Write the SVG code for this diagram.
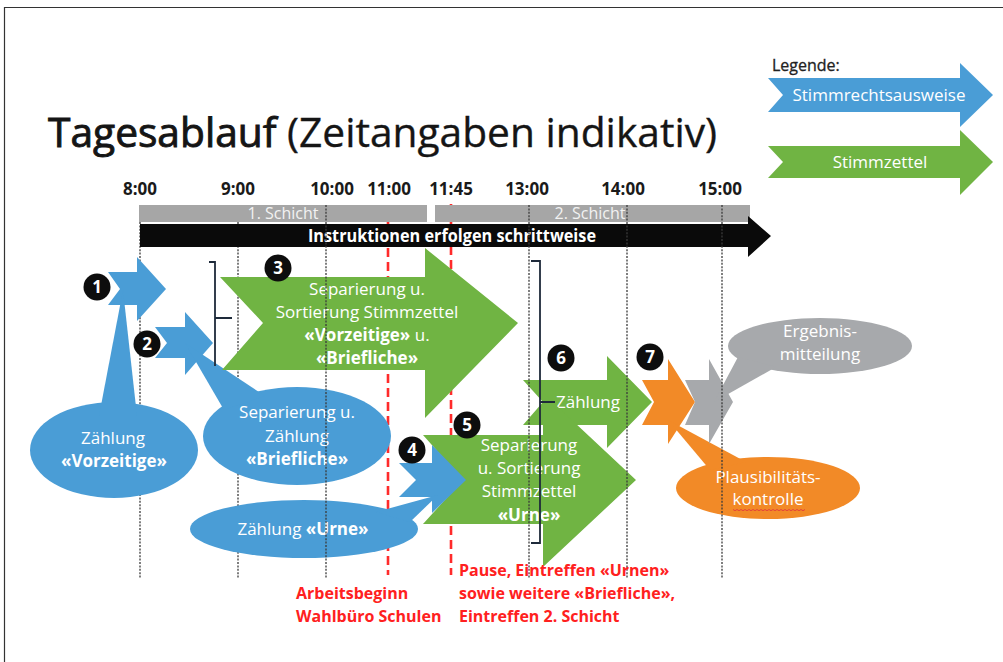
<svg xmlns="http://www.w3.org/2000/svg" width="1003" height="662" viewBox="0 0 1003 662">
  <style>
    .t { font-family: "Open Sans", "Liberation Sans", sans-serif; }
    .w { fill: #ffffff; font-size: 17px; text-anchor: middle; }
    .b { font-weight: 700; }
    .blue { fill: #4a9dd6; }
    .green { fill: #70b443; }
    .orange { fill: #f28a27; }
    .grey { fill: #a7a9ac; }
    .grid { stroke: #3a3a3a; stroke-width: 1.3; stroke-dasharray: 2 1.4; fill: none; }
    .redline { stroke: #ff2b2b; stroke-width: 2.6; stroke-dasharray: 9 5; fill: none; }
    .bracket { stroke: #1e2a3a; stroke-width: 1.8; fill: none; }
    .num circle { fill: #0d0d0d; }
    .num text { fill: #ffffff; font-size: 17px; font-weight: 700; text-anchor: middle; }
    .time { font-size: 17px; font-weight: 700; fill: #1a1a1a; text-anchor: middle; }
    .red { fill: #ff2020; font-size: 16px; font-weight: 700; }
  </style>

  <rect width="1003" height="662" fill="#ffffff"/>
  <path d="M4.5,662 V7.5 H1003" stroke="#333333" stroke-width="1.2" fill="none"/>

  <!-- heading -->
  <text class="t" x="48" y="147" font-size="40" fill="#151515" stroke="#151515" stroke-width="0.35" textLength="669" lengthAdjust="spacingAndGlyphs"><tspan stroke-width="0.9">Tagesablauf</tspan> (Zeitangaben indikativ)</text>

  <!-- legend -->
  <g id="legend">
    <text class="t" x="772" y="71" font-size="16" fill="#222222" stroke="#222222" stroke-width="0.3">Legende:</text>
    <polygon class="blue" points="768,78 960,78 960,63 993,95 960,127 960,112 768,112 783,95"/>
    <text class="t w" x="879" y="101" font-size="16">Stimmrechtsausweise</text>
    <polygon class="green" points="768,146 960,146 960,130 993,162 960,195 960,178 768,178 783,162"/>
    <text class="t w" x="880" y="168" font-size="16">Stimmzettel</text>
  </g>

  <!-- time axis -->
  <g id="timeline">
    <g class="t time">
      <text x="140" y="195">8:00</text>
      <text x="238" y="195">9:00</text>
      <text x="332" y="195">10:00</text>
      <text x="389" y="195">11:00</text>
      <text x="451" y="195">11:45</text>
      <text x="527" y="195">13:00</text>
      <text x="623" y="195">14:00</text>
      <text x="720" y="195">15:00</text>
    </g>
    <path class="redline" d="M388,206 V575 M451,204 V575"/>
    <path class="grid" d="M140,205 V578 M238,205 V578"/>
    <g id="shift1">
      <rect x="139" y="205" width="288" height="17" fill="#a6a6a6"/>
      <text class="t" x="283" y="219" font-size="16" fill="#f2f2f2" text-anchor="middle">1. Schicht</text>
    </g>
    <g id="shift2">
      <rect x="435" y="205" width="315" height="17" fill="#a6a6a6"/>
      <text class="t" x="590" y="219" font-size="16" fill="#f2f2f2" text-anchor="middle">2. Schicht</text>
    </g>
    <g id="instructions">
      <polygon points="140,224 748,224 748,216 771,236 748,257 748,247 140,247" fill="#0a0a0a"/>
      <text class="t w b" x="452" y="242" font-size="16" textLength="288" lengthAdjust="spacingAndGlyphs">Instruktionen erfolgen schrittweise</text>
    </g>
  </g>

  <!-- step 1 -->
  <g id="step1">
    <polygon class="blue" points="108,272 137,272 137,257 166,289 137,321 137,305 108,305 120,289"/>
    <g class="num"><circle cx="97" cy="287" r="13.5"/><text class="t" x="97" y="293">1</text></g>
  </g>
  <g id="count-early">
    <ellipse class="blue" cx="114" cy="450" rx="84" ry="48"/>
    <polygon class="blue" points="123,290 99,416 137,416"/>
    <text class="t w" x="113" y="444">Zählung</text>
    <text class="t w b" x="114" y="467">«Vorzeitige»</text>
  </g>

  <!-- step 2 -->
  <g id="step2">
    <polygon class="blue" points="155,327 185,327 185,312 213,343 185,375 185,358 155,358 167,343"/>
    <g class="num"><circle cx="147" cy="344" r="13.5"/><text class="t" x="147" y="350">2</text></g>
  </g>
  <g id="count-postal">
    <ellipse class="blue" cx="297" cy="436" rx="94" ry="49"/>
    <polygon class="blue" points="185,343 224,410 265,396"/>
    <text class="t w" x="297" y="418" font-size="16.5">Separierung u.</text>
    <text class="t w" x="297" y="442" font-size="16.5">Zählung</text>
    <text class="t w b" x="297" y="465" font-size="16.5">«Briefliche»</text>
  </g>

  <!-- step 3 -->
  <g id="step3">
    <polygon class="green" points="220,277 425,277 425,248 518,323 425,418 425,370 222,370 263,323"/>
    <text class="t w" x="367" y="295">Separierung u.</text>
    <text class="t w" x="367" y="318">Sortierung Stimmzettel</text>
    <text class="t w" x="367" y="341"><tspan class="b">«Vorzeitige»</tspan> u.</text>
    <text class="t w b" x="367" y="364">«Briefliche»</text>
    <g class="num"><circle cx="278" cy="268" r="13.5"/><text class="t" x="278" y="274">3</text></g>
  </g>

  <!-- step 6 -->
  <g id="step6">
    <polygon class="green" points="523,380 607,380 607,356 652,402 607,448 607,425 523,425 543,402"/>
    <text class="t w" x="588" y="408">Zählung</text>
    <g class="num"><circle cx="561" cy="358" r="13.5"/><text class="t" x="561" y="364">6</text></g>
  </g>

  <!-- step 5 -->
  <g id="step5">
    <polygon class="green" points="423,435 543,435 543,393 636,480 543,567 543,524 423,524 463,480"/>
    <text class="t w" x="529" y="451">Separierung</text>
    <text class="t w" x="529" y="474">u. Sortierung</text>
    <text class="t w" x="529" y="497">Stimmzettel</text>
    <text class="t w b" x="529" y="521">«Urne»</text>
    <g class="num"><circle cx="467" cy="425" r="13.5"/><text class="t" x="467" y="431">5</text></g>
  </g>

  <!-- step 4 -->
  <g id="step4">
    <polygon class="blue" points="399,463 432,463 432,445 466,480 432,513 432,497 399,497 416,480"/>
    <g class="num"><circle cx="412" cy="450" r="13.5"/><text class="t" x="412" y="456">4</text></g>
  </g>
  <g id="count-urn">
    <ellipse class="blue" cx="304" cy="529" rx="114" ry="29"/>
    <polygon class="blue" points="376,512 438,495 410,522"/>
    <text class="t w" x="303" y="535">Zählung <tspan class="b">«Urne»</tspan></text>
  </g>

  <!-- step 7 -->
  <g id="step7">
    <polygon class="orange" points="642,380 668,380 668,359 695,402 668,444 668,425 642,425 654,402"/>
    <g class="num"><circle cx="650" cy="357" r="13.5"/><text class="t" x="650" y="363">7</text></g>
  </g>
  <g id="plausibility">
    <ellipse class="orange" cx="768" cy="488" rx="92" ry="31"/>
    <polygon class="orange" points="668,420 710,470 746,462"/>
    <text class="t w" x="768" y="483">Plausibilitäts-</text>
    <text class="t w" x="768" y="505">kontrolle</text>
    <path d="M733,509.5 l2,1.2 l2,-1.2 l2,1.2 l2,-1.2 l2,1.2 l2,-1.2 l2,1.2 l2,-1.2 l2,1.2 l2,-1.2 l2,1.2 l2,-1.2 l2,1.2 l2,-1.2 l2,1.2 l2,-1.2 l2,1.2 l2,-1.2 l2,1.2 l2,-1.2 l2,1.2 l2,-1.2 l2,1.2 l2,-1.2 l2,1.2 l2,-1.2 l2,1.2 l2,-1.2 l2,1.2 l2,-1.2 l2,1.2 l2,-1.2 l2,1.2 l2,-1.2 l2,1.2 l2,-1.2" stroke="#e23a3a" stroke-width="0.9" fill="none"/>
  </g>

  <!-- result -->
  <g id="result">
    <polygon class="grey" points="685,380 709,380 709,359 733,402 709,444 709,425 685,425 695,402"/>
  </g>
  <g id="result-note">
    <ellipse class="grey" cx="820" cy="346" rx="92" ry="28"/>
    <polygon class="grey" points="714,402 738,357 776,367"/>
    <text class="t w" x="820" y="337" fill="#f4f4f4">Ergebnis-</text>
    <text class="t w" x="820" y="360" fill="#f4f4f4">mitteilung</text>
  </g>

  <!-- hour lines drawn over the shapes, and the grouping brackets -->
  <g id="connectors">
    <path class="grid" d="M326,205 V578 M529,205 V578 M627,205 V578 M722,205 V578"/>
    <path class="bracket" d="M209,262 H215 V366 M215,318 H232"/>
    <path class="bracket" d="M531,261 H540 V543 H531 M540,402 H555"/>
  </g>

  <!-- milestone notes -->
  <g id="notes" class="t red">
    <text x="296" y="599">Arbeitsbeginn</text>
    <text x="296" y="622">Wahlbüro Schulen</text>
    <text x="459" y="576">Pause, Eintreffen «Urnen»</text>
    <text x="459" y="599">sowie weitere «Briefliche»,</text>
    <text x="459" y="622">Eintreffen 2. Schicht</text>
  </g>
</svg>
